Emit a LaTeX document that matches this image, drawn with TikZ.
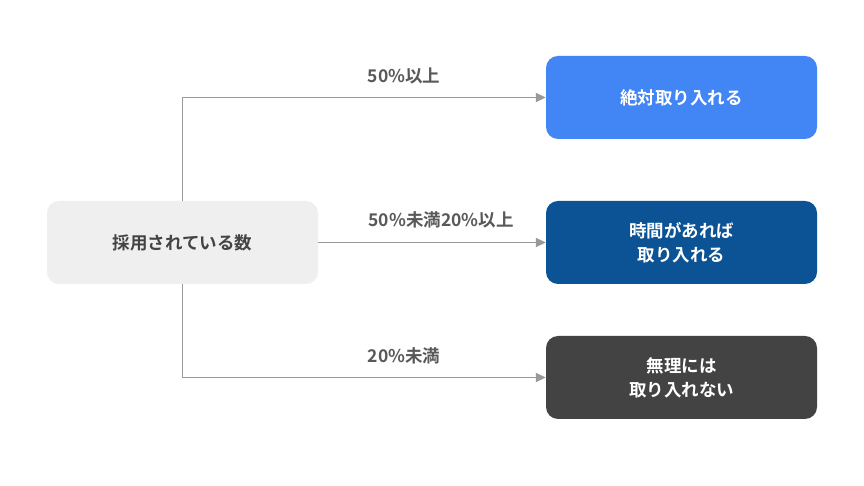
\documentclass[tikz,border=0pt]{standalone}
\usepackage{fontspec}
\setmainfont{Noto Sans CJK JP Bold}
\usetikzlibrary{positioning}
\usetikzlibrary{arrows.meta}
\definecolor{boxgray}{HTML}{EFEFEF}
\definecolor{boxblue}{HTML}{4285F4}
\definecolor{boxnavy}{HTML}{0B5394}
\definecolor{boxdark}{HTML}{434343}
\definecolor{textgray}{HTML}{434343}
\definecolor{labelgray}{HTML}{595959}
\definecolor{linegray}{HTML}{999999}
\tikzset{
    choice/.style={rounded corners=12pt, minimum width=271pt, minimum height=83pt,
        align=center, font=\fontsize{17.5}{24}\selectfont, text=white},
    branch/.style={draw=linegray, line width=1.8pt, -{Triangle[length=10pt, width=9pt]}},
    cond/.style={text=labelgray, font=\fontsize{17.5}{20}\selectfont}
}

\begin{document}
\begin{tikzpicture}[x=1pt, y=1pt]
    \useasboundingbox[fill=white] (0,0) rectangle (864,486);

    \node[choice, fill=boxgray, text=textgray] (count) at (182.5, 243.5) {採用されている数};
    \node[choice, fill=boxblue] (must) at (681.5, 388.5) {絶対取り入れる};
    \node[choice, fill=boxnavy] (maybe) at (681.5, 243.5) {時間があれば\\取り入れる};
    \node[choice, fill=boxdark] (never) at (681.5, 108.5) {無理には\\取り入れない};

    \draw[branch] (count.north) |- (must.west);
    \draw[branch] (count.east) -- (maybe.west);
    \draw[branch] (count.south) |- (never.west);

    \node[cond] (high) at (404, 410) {50\%以上};
    \node[cond] (mid) at (441, 266) {50\%未満20\%以上};
    \node[cond] (low) at (404, 130) {20\%未満};
\end{tikzpicture}
\end{document}
